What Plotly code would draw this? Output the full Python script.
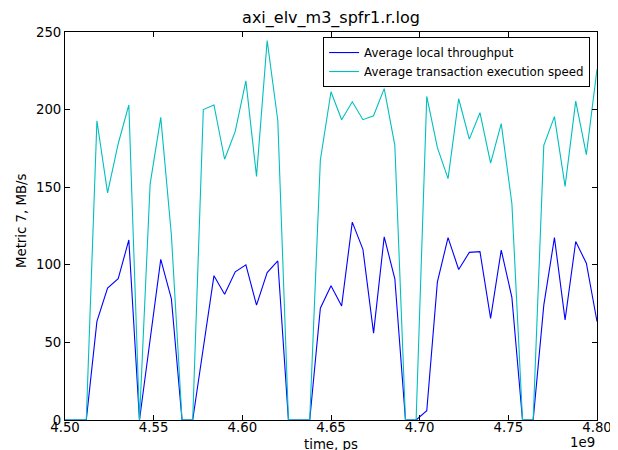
import plotly.graph_objects as go

# time in units of 1e9 ps
time_e9 = [4.500, 4.506, 4.512, 4.518, 4.524, 4.530, 4.536, 4.542, 4.548, 4.554,
           4.560, 4.566, 4.572, 4.578, 4.584, 4.590, 4.596, 4.602, 4.608, 4.614,
           4.620, 4.626, 4.632, 4.638, 4.644, 4.650, 4.656, 4.662, 4.668, 4.674,
           4.680, 4.686, 4.692, 4.698, 4.704, 4.710, 4.716, 4.722, 4.728, 4.734,
           4.740, 4.746, 4.752, 4.758, 4.764, 4.770, 4.776, 4.782, 4.788, 4.794,
           4.800]

local_throughput = [0, 0, 0, 63.5, 85, 91, 116, 0, 51.5, 103.5,
                    78, 0, 0, 46, 93, 81, 95.5, 100, 74, 95,
                    102.5, 0, 0, 0, 72, 86.5, 73.5, 127.5, 110, 56,
                    118, 91, 0, 0, 6, 89, 117.5, 97, 108, 108.5,
                    65.5, 109.5, 79, 0, 0, 74, 117.5, 64.5, 115, 101,
                    63.5]

exec_speed = [0, 0, 0, 192.8, 146.3, 178, 203, 0, 152, 195,
              119, 0, 0, 200, 203, 168, 186, 218.5, 157, 244.5,
              193, 0, 0, 0, 167.5, 211.5, 193.5, 205, 193.5, 196,
              213.5, 177, 0, 0, 208.5, 175.5, 155.5, 207, 181, 198,
              165.5, 191, 139.5, 0, 0, 177, 195.5, 150.5, 205.5, 171,
              226]

x_tick_vals = [4.50, 4.55, 4.60, 4.65, 4.70, 4.75, 4.80]
x_tick_text = ["4.50", "4.55", "4.60", "4.65", "4.70", "4.75", "4.80"]
y_tick_vals = [0, 50, 100, 150, 200, 250]

series_names = ["Average local throughput", "Average transaction execution speed"]

times = [t * 1e9 for t in time_e9]

FONT = "DejaVu Sans"
# the page body has an 8px margin; size the figure so it fills the window
W, H = 610, 442

fig = go.Figure()
fig.add_trace(go.Scatter(x=times, y=local_throughput, mode="lines",
                         name=series_names[0],
                         line=dict(color="#0000ff", width=1.1)))
fig.add_trace(go.Scatter(x=times, y=exec_speed, mode="lines",
                         name=series_names[1],
                         line=dict(color="#00bfbf", width=1.1)))

axis_common = dict(showline=True, linecolor="black", linewidth=1, mirror="allticks",
                   ticks="inside", ticklen=5, tickcolor="black", tickwidth=1,
                   showgrid=False, zeroline=False,
                   tickfont=dict(family=FONT, size=13.3, color="black"))

fig.update_xaxes(range=[4.5e9, 4.8e9], tickvals=[v * 1e9 for v in x_tick_vals],
                 ticktext=x_tick_text, ticklabelstandoff=-5, **axis_common)
fig.update_yaxes(range=[0, 250], tickvals=y_tick_vals, **axis_common)

fig.update_layout(
    width=W, height=H,
    margin=dict(l=57, r=21, t=24, b=30, autoexpand=False),
    paper_bgcolor="white", plot_bgcolor="white",
    font=dict(family=FONT, color="black"),
    title=dict(text="axi_elv_m3_spfr1.r.log", x=(323 / W), xanchor="center",
               y=1 - 9 / H, yanchor="middle",
               font=dict(family=FONT, size=16, color="black")),
    legend=dict(x=0.987, y=0.987, xanchor="right", yanchor="top",
                bordercolor="black", borderwidth=1, bgcolor="white",
                font=dict(family=FONT, size=11.8, color="black"),
                tracegroupgap=0),
    showlegend=True,
)

fig.add_annotation(text="Metric 7, MB/s", xref="paper", yref="paper",
                   x=(21 - 65) / 532, y=(420 - 221) / 388, textangle=-90,
                   showarrow=False, xanchor="center", yanchor="middle",
                   font=dict(family=FONT, size=13.3, color="black"))
fig.add_annotation(text="time, ps", xref="paper", yref="paper",
                   x=0.5, y=(420 - 435) / 388, showarrow=False,
                   xanchor="center", yanchor="top",
                   font=dict(family=FONT, size=13.3, color="black"))
fig.add_annotation(text="1e9", xref="paper", yref="paper",
                   x=(597 - 65) / 532, y=(420 - 442) / 388, showarrow=False,
                   xanchor="right", yanchor="middle",
                   font=dict(family=FONT, size=13.3, color="black"))

fig.write_html("out.html")
